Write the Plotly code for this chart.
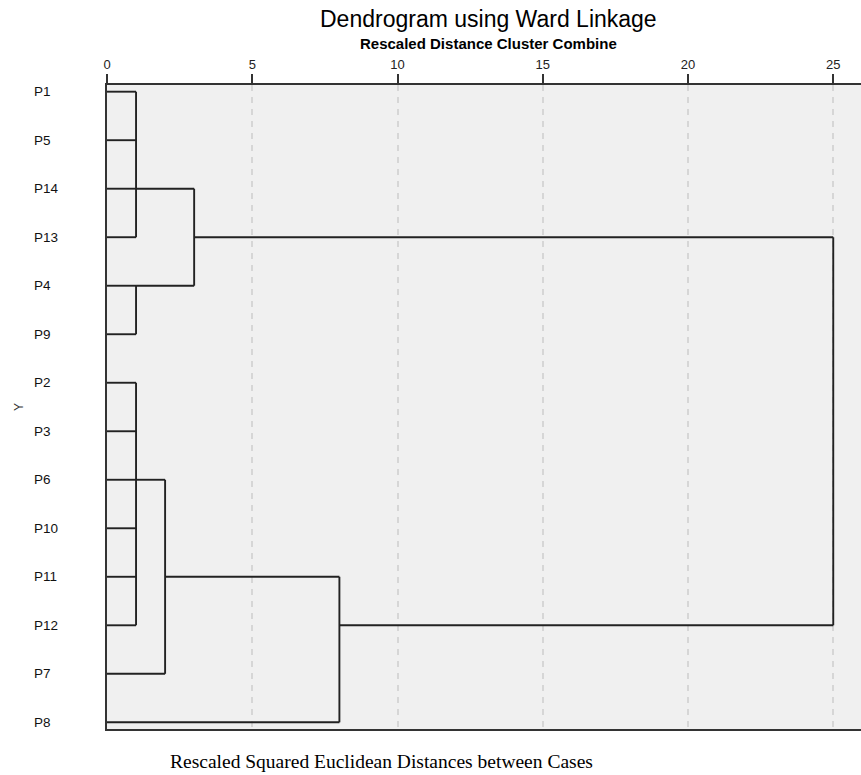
import plotly.graph_objects as go

# ---- data ----
leaf_labels = ["P1", "P5", "P14", "P13", "P4", "P9", "P2", "P3", "P6", "P10", "P11", "P12", "P7", "P8"]
# merges: (name, children, rescaled distance, row where the joined cluster continues)
merge_names = ["A", "B", "C", "D", "E", "F", "G"]
merge_children = [
    ["P1", "P5", "P14", "P13"],
    ["P4", "P9"],
    ["A", "B"],
    ["P2", "P3", "P6", "P10", "P11", "P12"],
    ["D", "P7"],
    ["E", "P8"],
    ["C", "F"],
]
merge_dist = [1, 1, 3, 1, 2, 8, 25]
merge_row = ["P14", "P4", "P13", "P6", "P11", "P12", None]
x_ticks = [0, 5, 10, 15, 20, 25]

# ---- build dendrogram segments from the merge table ----
row_of = {lab: i for i, lab in enumerate(leaf_labels)}
height_of = {lab: 0 for lab in leaf_labels}
xs, ys = [], []
for name, kids, d, rep in zip(merge_names, merge_children, merge_dist, merge_row):
    kid_rows = []
    for k in kids:
        r = row_of[k]
        kid_rows.append(r)
        xs += [height_of[k], d, None]
        ys += [r, r, None]
    xs += [d, d, None]
    ys += [min(kid_rows), max(kid_rows), None]
    height_of[name] = d
    row_of[name] = row_of[rep] if rep is not None else (min(kid_rows) + max(kid_rows)) / 2

fig = go.Figure()
fig.add_trace(go.Scatter(x=xs, y=ys, mode="lines",
                         line=dict(color="#222", width=1.9),
                         hoverinfo="skip", showlegend=False))

L, R, T, B = 107, 0, 85, 46
W, H = 861, 775
pw, ph = W - L - R, H - T - B

def px_x(p):
    return (p - L) / pw

def px_y(p):
    return (H - B - p) / ph

ann = []
for i, lab in enumerate(leaf_labels):
    ann.append(dict(text=lab, x=px_x(32), xref="paper", y=i, yref="y",
                    xanchor="left", yanchor="middle", showarrow=False,
                    font=dict(family="Arial, Liberation Sans", size=13.5, color="#111")))
ann.append(dict(text="Dendrogram using Ward Linkage", x=px_x(488), y=px_y(19),
                xref="paper", yref="paper", xanchor="center", yanchor="middle",
                showarrow=False, font=dict(family="Arial, Liberation Sans", size=23, color="#000")))
ann.append(dict(text="<b>Rescaled Distance Cluster Combine</b>", x=px_x(488), y=px_y(44),
                xref="paper", yref="paper", xanchor="center", yanchor="middle",
                showarrow=False, font=dict(family="Arial, Liberation Sans", size=15, color="#000")))
ann.append(dict(text="Rescaled Squared Euclidean Distances between Cases", x=px_x(381.5), y=px_y(761),
                xref="paper", yref="paper", xanchor="center", yanchor="middle",
                showarrow=False, font=dict(family="Times New Roman, Liberation Serif", size=19.5, color="#000")))
ann.append(dict(text="Y", x=px_x(19), y=px_y(407), xref="paper", yref="paper",
                xanchor="center", yanchor="middle", textangle=-90, showarrow=False,
                font=dict(family="Arial, Liberation Sans", size=12, color="#333")))

fig.update_layout(
    width=W, height=H,
    margin=dict(l=L, r=R, t=T, b=B, pad=0),
    paper_bgcolor="white", plot_bgcolor="#f0f0f0",
    annotations=ann,
    xaxis=dict(range=[0, (W - L) / 29.05], side="top", tickvals=x_ticks,
               ticks="outside", ticklen=9, tickwidth=2, tickcolor="#333",
               showline=True, linecolor="#333", linewidth=1.5, mirror=True,
               showgrid=True, gridcolor="#d6d6d6", gridwidth=2, griddash="6px,6px",
               zeroline=False,
               tickfont=dict(family="Arial, Liberation Sans", size=13, color="#222")),
    yaxis=dict(range=[13.138, -0.138], showticklabels=False, ticks="",
               showline=True, linecolor="#333", linewidth=2,
               showgrid=False, zeroline=False),
)
fig.write_html("out.html", config={"displayModeBar": False},
               post_script="document.body.style.margin='0';document.body.style.overflow='hidden';")
